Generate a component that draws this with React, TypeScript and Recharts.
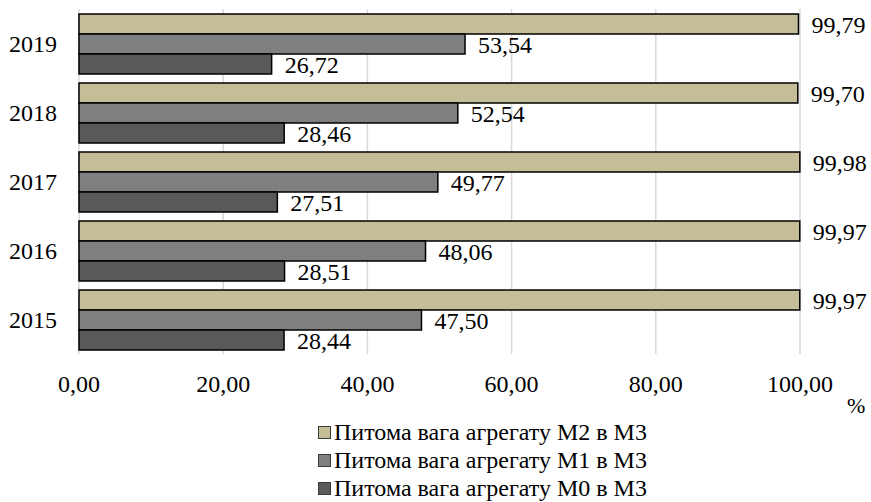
import React from "react";
import {
  BarChart,
  Bar,
  XAxis,
  YAxis,
  CartesianGrid,
  Legend,
  LabelList,
} from "recharts";

const years = ["2019", "2018", "2017", "2016", "2015"];
const m2Share = [99.79, 99.7, 99.98, 99.97, 99.97];
const m1Share = [53.54, 52.54, 49.77, 48.06, 47.5];
const m0Share = [26.72, 28.46, 27.51, 28.51, 28.44];
const xTicks = [0, 20, 40, 60, 80, 100];

const seriesNames = [
  "Питома вага агрегату М2 в М3",
  "Питома вага агрегату М1 в М3",
  "Питома вага агрегату М0 в М3",
];
const seriesColors = ["#c4bd97", "#7f7f7f", "#595959"];

const data = years.map((year, i) => ({
  year,
  m2: m2Share[i],
  m1: m1Share[i],
  m0: m0Share[i],
}));

const FONT = "Liberation Serif, Times New Roman, serif";

const fmt = (v: number) => v.toFixed(2).replace(".", ",");

const LegendBox = () => (
  <div style={{ paddingLeft: 318, fontFamily: FONT, fontSize: 24, color: "#000" }}>
    {seriesNames.map((name, i) => (
      <div key={name} style={{ height: 28, lineHeight: "28px", display: "flex", alignItems: "center" }}>
        <span
          style={{
            display: "inline-block",
            width: 11,
            height: 11,
            background: seriesColors[i],
            border: "1px solid #3a3a3a",
            marginRight: 3,
          }}
        />
        <span>{name}</span>
      </div>
    ))}
  </div>
);

export default function App() {
  const keys = ["m2", "m1", "m0"];
  return (
    <div style={{ position: "absolute", left: 0, top: 0, width: 871, height: 502, background: "#fff" }}>
      <BarChart
        width={871}
        height={502}
        data={data}
        layout="vertical"
        margin={{ top: 9, right: 71, left: 0, bottom: 0 }}
        barGap={0}
        barCategoryGap={5}
      >
        <CartesianGrid horizontal={false} stroke="#d9d9d9" strokeWidth={1.5} />
        <XAxis
          type="number"
          domain={[0, 100]}
          ticks={xTicks}
          tickFormatter={fmt}
          axisLine={false}
          tickLine={false}
          tickMargin={15}
          height={64}
          tick={{ fill: "#000", fontSize: 24, fontFamily: FONT }}
          label={{
            value: "%",
            position: "right",
            offset: 47,
            dy: 19,
            fill: "#000",
            fontSize: 22,
            fontFamily: FONT,
          }}
        />
        <YAxis
          type="category"
          dataKey="year"
          width={79}
          axisLine={false}
          tickLine={false}
          tickMargin={16}
          tick={{ fill: "#000", fontSize: 24, fontFamily: FONT }}
        />
        <Legend
          verticalAlign="bottom"
          content={<LegendBox />}
          wrapperStyle={{ left: 0, top: 418, bottom: "auto", width: 871 }}
        />
        {keys.map((k, i) => (
          <Bar
            key={k}
            dataKey={k}
            name={seriesNames[i]}
            fill={seriesColors[i]}
            stroke="#000"
            strokeWidth={1.5}
            isAnimationActive={false}
          >
            <LabelList
              dataKey={k}
              position="right"
              offset={13}
              formatter={(v: number) => fmt(v)}
              fill="#000"
              fontSize={24}
              fontFamily={FONT}
            />
          </Bar>
        ))}
      </BarChart>
    </div>
  );
}
